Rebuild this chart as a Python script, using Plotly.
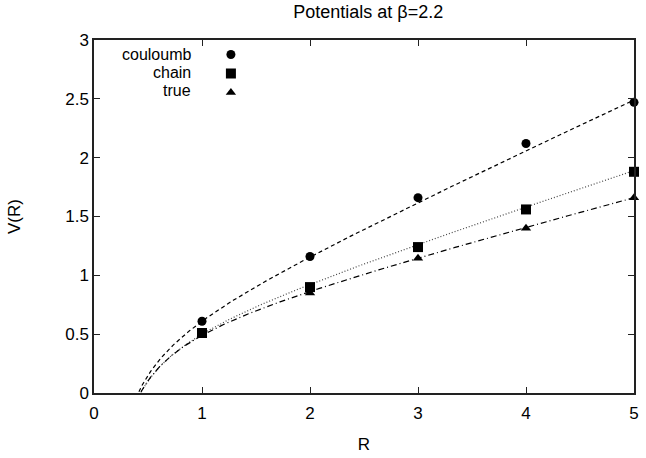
import numpy as np
import plotly.graph_objects as go

R = [1, 2, 3, 4, 5]
couloumb = [0.61, 1.16, 1.66, 2.12, 2.47]
chain = [0.51, 0.90, 1.24, 1.56, 1.88]
true_v = [0.50, 0.85, 1.145, 1.40, 1.66]

names = ["couloumb", "chain", "true"]
values = [couloumb, chain, true_v]
# fit parameters of V(R) = a + sigma*R - e/R, as drawn in the reference
fit_a = [0.44, 0.4515, 0.5177]
fit_sigma = [0.42, 0.2977, 0.2391]
fit_e = [0.25, 0.2492, 0.2668]

symbols = ["circle", "square", "triangle-up"]
msizes = [9, 10, 9]
dashes = ["4px,3px", "1px,2px", "6px,3px,1px,3px"]
lcolors = ["#000000", "#444444", "#000000"]

FONT = "Liberation Sans, Arial, Helvetica, sans-serif"
fig = go.Figure()

Rf = np.linspace(0.3, 5.0, 500)
for i in range(3):
    Vf = fit_a[i] + fit_sigma[i] * Rf - fit_e[i] / Rf
    fig.add_trace(go.Scatter(x=Rf, y=Vf, mode="lines", showlegend=False,
                             line=dict(color=lcolors[i], width=1.2, dash=dashes[i]),
                             hoverinfo="skip"))

for i in range(3):
    fig.add_trace(go.Scatter(x=R, y=values[i], mode="markers", name=names[i],
                             marker=dict(symbol=symbols[i], size=msizes[i], color="black"),
                             cliponaxis=False))

axis_common = dict(showgrid=False, zeroline=False, showline=True, mirror="ticks",
                   linecolor="#222222", linewidth=1.5, ticks="inside", ticklen=6,
                   tickcolor="#222222", tickwidth=1,
                   tickfont=dict(family=FONT, size=17, color="black"))

fig.update_layout(
    width=646, height=458,
    margin=dict(l=94, r=7, t=40, b=61),
    paper_bgcolor="white", plot_bgcolor="white",
    title=dict(text="Potentials at β=2.2", x=0.57, xanchor="center",
               y=0.975, yanchor="middle",
               font=dict(family=FONT, size=18, color="black")),
    xaxis=dict(range=[0, 5], tickvals=[0, 1, 2, 3, 4, 5], ticklabelstandoff=4,
               **axis_common,
               title=dict(text="R", font=dict(family=FONT, size=17, color="black"), standoff=16)),
    yaxis=dict(range=[0, 3], tickvals=[0, 0.5, 1, 1.5, 2, 2.5, 3],
               ticktext=["0", "0.5", "1", "1.5", "2", "2.5", "3"], **axis_common,
               title=dict(text="V(R)", font=dict(family=FONT, size=17, color="black"), standoff=40)),
    legend=dict(x=0.2165, y=1.0, xanchor="left", yanchor="top",
                bgcolor="rgba(0,0,0,0)", tracegroupgap=0,
                font=dict(family=FONT, size=11, color="rgba(0,0,0,0)")),
    showlegend=True,
)

for i, name in enumerate(names):
    fig.add_annotation(text=name, xref="paper", yref="paper",
                       x=0.182, y=(397 - (54.5 + 18.5 * i)) / 357.0,
                       xanchor="right", yanchor="middle", showarrow=False,
                       borderpad=0,
                       font=dict(family=FONT, size=16, color="black"))

fig.write_html("out.html", config={"displayModeBar": False},
               post_script="document.body.style.margin='0';document.body.style.overflow='hidden';")
